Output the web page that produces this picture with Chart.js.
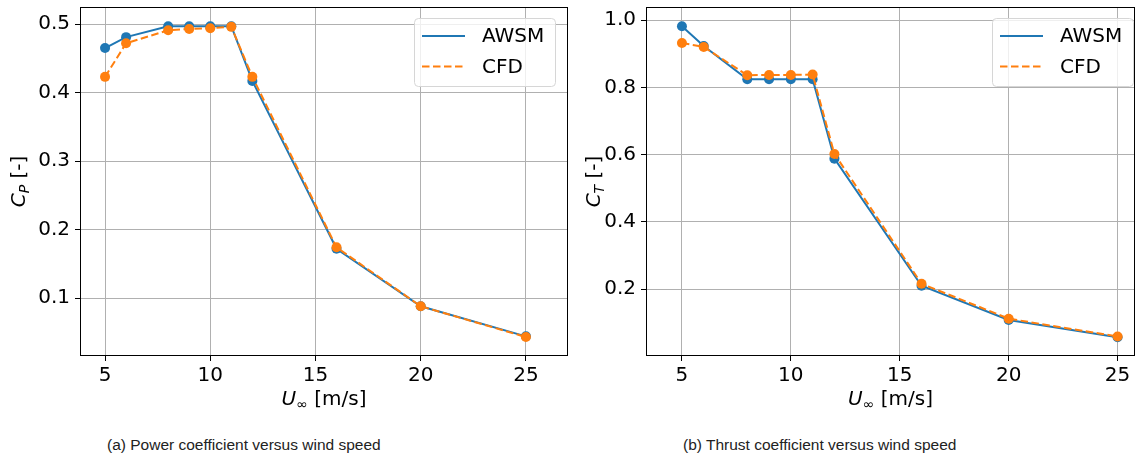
<!DOCTYPE html>
<html>
<head>
<meta charset="utf-8">
<script src="https://cdn.jsdelivr.net/npm/chart.js@4.4.1/dist/chart.umd.min.js"></script>
<style>
  body { margin: 0; background: #fff; width: 1145px; height: 459px; position: relative; overflow: hidden; }
  .box { position: absolute; top: 0; height: 420px; }
  .caption { position: absolute; top: 436px; font-family: "Liberation Sans", Arial, sans-serif; font-size: 15.5px; color: #222; }
</style>
</head>
<body>
<div class="box" style="left:0;width:575px"><canvas id="cpChart"></canvas></div>
<div class="box" style="left:565px;width:580px"><canvas id="ctChart"></canvas></div>
<div class="caption" style="left:107px">(a) Power coefficient versus wind speed</div>
<div class="caption" style="left:683px">(b) Thrust coefficient versus wind speed</div>
<script>
// wind speeds [m/s]
const windSpeeds = [5, 6, 8, 9, 10, 11, 12, 16, 20, 25];

// power coefficient
const cpAwsm = [0.465, 0.481, 0.497, 0.497, 0.497, 0.497, 0.417, 0.172, 0.088, 0.044];
const cpCfd  = [0.423, 0.472, 0.491, 0.493, 0.494, 0.496, 0.423, 0.174, 0.088, 0.043];

// thrust coefficient
const ctAwsm = [0.982, 0.923, 0.824, 0.824, 0.824, 0.824, 0.588, 0.210, 0.108, 0.057];
const ctCfd  = [0.932, 0.920, 0.836, 0.837, 0.837, 0.838, 0.602, 0.216, 0.112, 0.059];

const xTicks = [5, 10, 15, 20, 25];
const cpTicks = [0.1, 0.2, 0.3, 0.4, 0.5];
const ctTicks = [0.2, 0.4, 0.6, 0.8, 1.0];

const seriesNames = ['AWSM', 'CFD'];
const BLUE = '#1f77b4';
const ORANGE = '#ff7f0e';
const FONT = '"DejaVu Sans", sans-serif';
const FS = 20;

function pts(ys) {
    return windSpeeds.map((x, i) => ({ x: x, y: ys[i] }));
}

// draw a run of text pieces, some italic / subscript
function richWidth(ctx, parts, size) {
    let w = 0;
    parts.forEach(p => {
        const s = p.sub ? size * 0.7 : size;
        ctx.font = (p.italic ? 'italic ' : '') + s + 'px ' + FONT;
        w += ctx.measureText(p.t).width;
    });
    return w;
}
function drawRich(ctx, parts, x, y, size) {
    parts.forEach(p => {
        const s = p.sub ? size * 0.7 : size;
        ctx.font = (p.italic ? 'italic ' : '') + s + 'px ' + FONT;
        ctx.fillText(p.t, x, p.sub ? y + size * 0.25 : y);
        x += ctx.measureText(p.t).width;
    });
}

const decor = {
    id: 'decor',
    afterDraw(chart, args, opts) {
        const ctx = chart.ctx;
        const a = chart.chartArea;
        ctx.save();
        // frame
        ctx.strokeStyle = '#000';
        ctx.lineWidth = 1;
        ctx.strokeRect(a.left + 0.5, a.top + 0.5, a.right - a.left - 1, a.bottom - a.top - 1);

        ctx.fillStyle = '#000';
        ctx.textBaseline = 'middle';
        // x title
        const xt = [{ t: 'U', italic: true }, { t: '\u221e', sub: true }, { t: ' [m/s]' }];
        const xw = richWidth(ctx, xt, FS);
        drawRich(ctx, xt, (a.left + a.right) / 2 - xw / 2, 400, FS);
        // y title
        ctx.save();
        ctx.translate(opts.yTitleX, (a.top + a.bottom) / 2);
        ctx.rotate(-Math.PI / 2);
        const yt = [{ t: 'C', italic: true }, { t: opts.sub, italic: true, sub: true }, { t: ' [-]' }];
        const yw = richWidth(ctx, yt, FS);
        drawRich(ctx, yt, -yw / 2, 0, FS);
        ctx.restore();

        // legend
        const lx = opts.legendX, ly = 18, lw = 141, lh = 68;
        ctx.beginPath();
        ctx.roundRect(lx + 0.5, ly + 0.5, lw, lh, 4);
        ctx.fillStyle = 'rgba(255,255,255,0.8)';
        ctx.fill();
        ctx.strokeStyle = '#d6d6d6';
        ctx.lineWidth = 1;
        ctx.stroke();
        chart.data.datasets.forEach((ds, i) => {
            const yy = ly + 18 + i * 30.5;
            ctx.beginPath();
            ctx.strokeStyle = ds.borderColor;
            ctx.lineWidth = 2;
            ctx.setLineDash(ds.borderDash || []);
            ctx.moveTo(lx + 8, yy);
            ctx.lineTo(lx + 51, yy);
            ctx.stroke();
            ctx.setLineDash([]);
            ctx.fillStyle = '#000';
            ctx.font = FS + 'px ' + FONT;
            ctx.textAlign = 'left';
            ctx.fillText(ds.label, lx + 68, yy + 1);
        });
        ctx.restore();
    }
};

function makeChart(id, awsm, cfd, yTicks, yMin, yMax, xMin, xMax, yWidth, padRight, sub, yTitleX, legendX) {
    return new Chart(document.getElementById(id).getContext('2d'), {
        type: 'line',
        data: {
            datasets: [{
                label: seriesNames[0],
                data: pts(awsm),
                borderColor: BLUE,
                backgroundColor: BLUE,
                borderWidth: 2,
                pointRadius: 5,
                pointBorderWidth: 0,
                tension: 0,
                order: 1
            }, {
                label: seriesNames[1],
                data: pts(cfd),
                borderColor: ORANGE,
                backgroundColor: ORANGE,
                borderWidth: 2,
                borderDash: [7.5, 3.5],
                pointRadius: 5,
                pointBorderWidth: 0,
                tension: 0,
                order: 0
            }]
        },
        options: {
            responsive: false,
            animation: false,
            layout: { padding: { top: 7, right: padRight, left: 0, bottom: 0 } },
            plugins: { legend: { display: false }, tooltip: { enabled: false }, decor: { sub: sub, yTitleX: yTitleX, legendX: legendX } },
            scales: {
                x: {
                    type: 'linear',
                    min: xMin,
                    max: xMax,
                    afterBuildTicks: s => { s.ticks = xTicks.map(v => ({ value: v })); },
                    afterFit: s => { s.height = 64; s.paddingLeft = 0; s.paddingRight = 0; },
                    grid: { color: '#b0b0b0', tickColor: '#000', tickLength: 5, lineWidth: 1 },
                    border: { display: false },
                    ticks: { color: '#000', font: { family: FONT, size: FS }, padding: 3, maxRotation: 0 }
                },
                y: {
                    min: yMin,
                    max: yMax,
                    afterBuildTicks: s => { s.ticks = yTicks.map(v => ({ value: v })); },
                    afterFit: s => { s.width = yWidth; s.paddingTop = 0; s.paddingBottom = 0; },
                    grid: { color: '#b0b0b0', tickColor: '#000', tickLength: 5, lineWidth: 1 },
                    border: { display: false },
                    ticks: { color: '#000', font: { family: FONT, size: FS }, padding: 5, callback: v => v.toFixed(1) }
                }
            }
        },
        plugins: [decor]
    });
}

function sizeCanvas(id, w, h) {
    const c = document.getElementById(id);
    c.width = w; c.height = h;
    c.style.width = w + 'px'; c.style.height = h + 'px';
}
sizeCanvas('cpChart', 575, 420);
sizeCanvas('ctChart', 580, 420);

makeChart('cpChart', cpAwsm, cpCfd, cpTicks, 0.0153, 0.525, 3.81, 27.0, 80, 7, 'P', 20, 414);
makeChart('ctChart', ctAwsm, ctCfd, ctTicks, 0.001, 1.039, 3.35, 25.8, 81, 10, 'T', 30, 427);
</script>
</body>
</html>
